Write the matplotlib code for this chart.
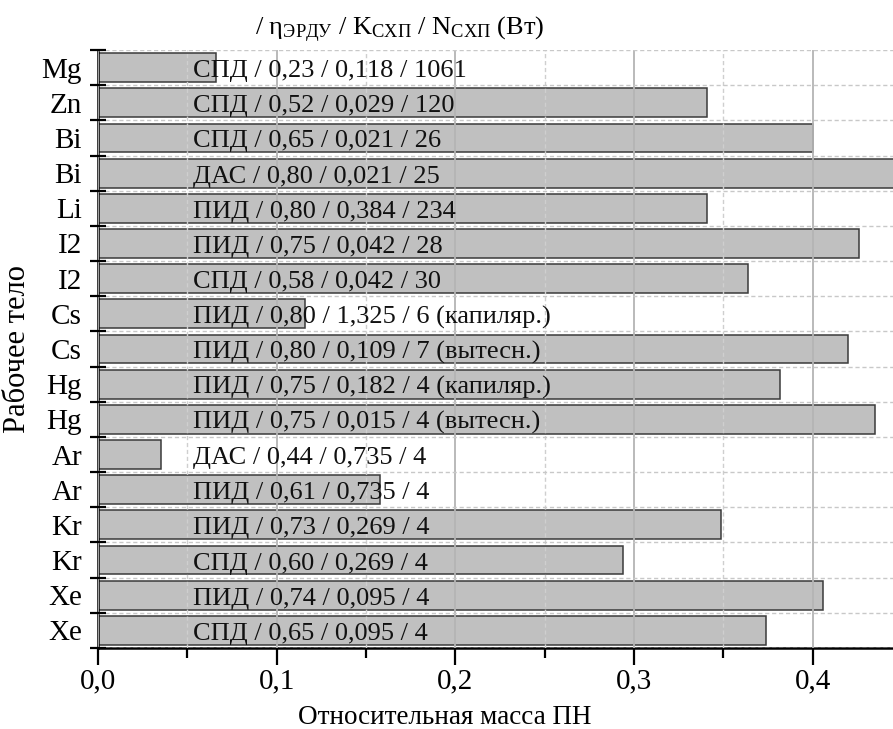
import matplotlib
matplotlib.use("Agg")
import matplotlib.pyplot as plt
import numpy as np
from matplotlib.ticker import MultipleLocator, FuncFormatter

plt.rcParams['font.family'] = ['Liberation Serif', 'DejaVu Serif']
plt.rcParams['mathtext.fontset'] = 'custom'
plt.rcParams['mathtext.rm'] = 'Liberation Serif'
plt.rcParams['mathtext.it'] = 'Liberation Serif:italic'

# Data (top to bottom)
fluids = ["Mg", "Zn", "Bi", "Bi", "Li", "I2", "I2", "Cs", "Cs", "Hg", "Hg",
          "Ar", "Ar", "Kr", "Kr", "Xe", "Xe"]
rel_mass = [0.066, 0.341, 0.400, 0.455, 0.341, 0.426, 0.364, 0.116, 0.420,
            0.382, 0.435, 0.035, 0.158, 0.349, 0.294, 0.406, 0.374]
bar_texts = [
    "СПД / 0,23 / 0,118 / 1061",
    "СПД / 0,52 / 0,029 / 120",
    "СПД / 0,65 / 0,021 / 26",
    "ДАС / 0,80 / 0,021 / 25",
    "ПИД / 0,80 / 0,384 / 234",
    "ПИД / 0,75 / 0,042 / 28",
    "СПД / 0,58 / 0,042 / 30",
    "ПИД / 0,80 / 1,325 / 6 (капиляр.)",
    "ПИД / 0,80 / 0,109 / 7 (вытесн.)",
    "ПИД / 0,75 / 0,182 / 4 (капиляр.)",
    "ПИД / 0,75 / 0,015 / 4 (вытесн.)",
    "ДАС / 0,44 / 0,735 / 4",
    "ПИД / 0,61 / 0,735 / 4",
    "ПИД / 0,73 / 0,269 / 4",
    "СПД / 0,60 / 0,269 / 4",
    "ПИД / 0,74 / 0,095 / 4",
    "СПД / 0,65 / 0,095 / 4",
]
x_ticks = [0.0, 0.1, 0.2, 0.3, 0.4]

fig = plt.figure(figsize=(8.93, 7.29), dpi=100)
ax = fig.add_axes([98/893, 1 - 648/729, 1 - 98/893, (648 - 50)/729])

n = len(fluids)
ypos = np.arange(n)
ax.barh(ypos, rel_mass, height=0.82, color='#c0c0c0', edgecolor='#3a3a3a',
        linewidth=1.1, zorder=2)

for y, t in zip(ypos, bar_texts):
    ax.text(0.053, y + 0.27, t, ha='left', va='baseline', fontsize=19,
            color='#111111', zorder=4)

ax.set_ylim(n - 0.5, -0.5)
ax.set_xlim(0, 0.445)

# y axis: labels at centers, tick marks at boundaries
ax.set_yticks(ypos)
ax.set_yticklabels(fluids, fontsize=21)
ax.set_yticks(np.arange(-0.5, n, 1.0), minor=True)
ax.tick_params(axis='y', which='major', length=0, pad=11.5)
ax.tick_params(axis='y', which='minor', direction='inout', length=11, width=1.6)

# x axis
ax.set_xticks(x_ticks)
ax.xaxis.set_major_formatter(FuncFormatter(lambda v, p: f"{v:.1f}".replace('.', ',')))
ax.xaxis.set_minor_locator(MultipleLocator(0.05))
ax.tick_params(axis='x', which='major', direction='out', length=12, width=1.6,
               labelsize=21, pad=3)
ax.tick_params(axis='x', which='minor', direction='out', length=7, width=1.6)

for s in ['top', 'right']:
    ax.spines[s].set_visible(False)
for s in ['left', 'bottom']:
    ax.spines[s].set_linewidth(1.8)

# grid
ax.grid(axis='x', which='major', color='#b4b4b4', linewidth=1.3, linestyle='-', zorder=3)
ax.grid(axis='x', which='minor', color='#cfcfcf', linewidth=1.0, linestyle=(0, (3, 2)), zorder=3)
ax.grid(axis='y', which='minor', color='#c8c8c8', linewidth=1.0, linestyle=(0, (3, 2)), zorder=1)
ax.set_axisbelow(False)

ax.set_xlabel("Относительная масса ПН", fontsize=19.5)
ax.xaxis.set_label_coords((445 - 98) / 795, -0.095)
ax.set_ylabel("Рабочее тело", fontsize=22)
ax.yaxis.set_label_coords(-0.083, 0.5)

fig.text(400/893, 1 - 30/729,
         r"/ η$_{\mathrm{ЭРДУ}}$ / K$_{\mathrm{СХП}}$ / N$_{\mathrm{СХП}}$ (Вт)",
         ha='center', va='center', fontsize=19)

fig.savefig("out.png", dpi=100)
